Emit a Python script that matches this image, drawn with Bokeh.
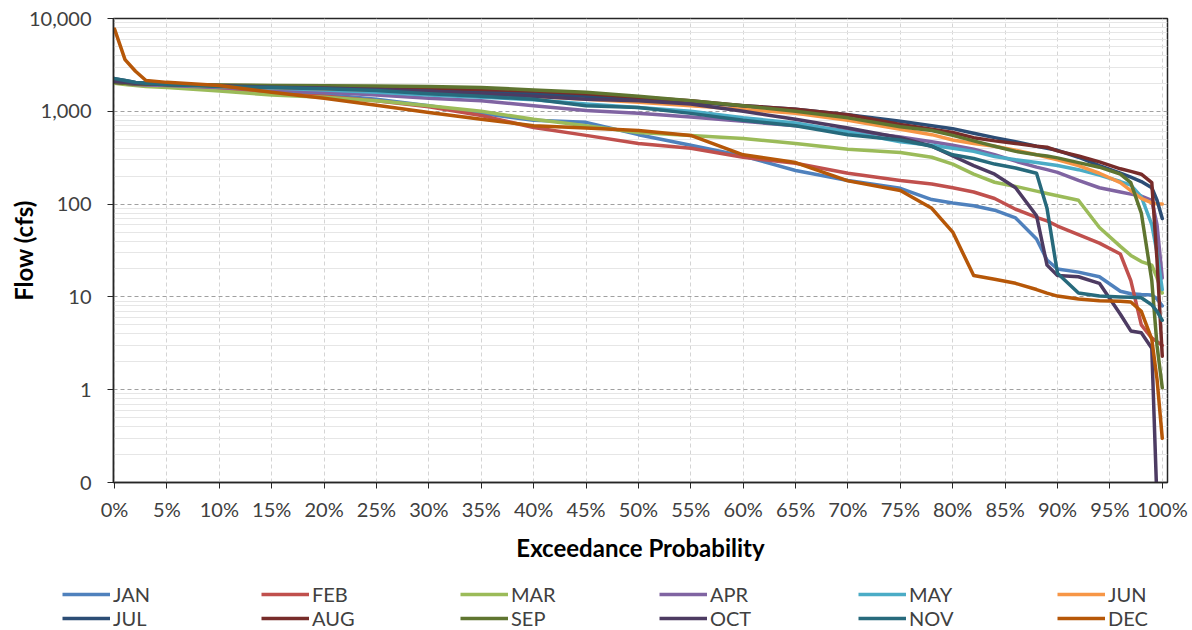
from bokeh.plotting import figure
from bokeh.models import FixedTicker, NumeralTickFormatter, Legend, LegendItem, Range1d
from bokeh.embed import file_html
from bokeh.resources import INLINE

# Exceedance probability grid (fraction)
prob = [0, .01, .02, .03, .05, .10, .15, .20, .25, .30, .35, .40, .45, .50, .55, .60, .65, .70,
        .75, .78, .80, .82, .84, .86, .88, .89, .90, .92, .94, .96, .97, .98, .99, .995, 1.0]

months = ["JAN", "FEB", "MAR", "APR", "MAY", "JUN", "JUL", "AUG", "SEP", "OCT", "NOV", "DEC"]

jan = [2050, 2000, 1980, 1950, 1900, 1750, 1620, 1520, 1350, 1150, 950, 800, 760, 560, 430, 330, 230, 180,
       148, 112, 103, 96, 86, 71, 42, 25, 20, 18.5, 16.5, 11.5, 10.8, 10.6, 10.5, 9.5, 8]
feb = [2100, 2000, 1950, 1900, 1850, 1700, 1550, 1450, 1300, 1120, 900, 670, 550, 450, 400, 320, 275, 215,
       180, 165, 150, 135, 115, 88, 72, 66, 58, 47, 38, 29, 15, 5, 3.6, 3.3, 3]
mar = [2000, 1950, 1900, 1850, 1800, 1650, 1500, 1420, 1300, 1150, 1000, 820, 700, 590, 550, 510, 450, 390,
       360, 320, 270, 210, 172, 155, 138, 130, 123, 110, 56, 35, 28, 24, 22, 16, 11]
apr = [2050, 2000, 1950, 1920, 1900, 1800, 1700, 1600, 1500, 1380, 1300, 1150, 1020, 950, 870, 780, 700, 620,
       530, 470, 430, 390, 340, 290, 250, 235, 220, 180, 150, 135, 128, 122, 110, 60, 16]
may = [2150, 2080, 2020, 2000, 1950, 1850, 1780, 1700, 1600, 1500, 1420, 1330, 1200, 1100, 1000, 850, 750, 600,
       470, 430, 400, 370, 325, 300, 280, 270, 260, 235, 205, 175, 160, 120, 60, 30, 12]
jun = [2100, 2050, 2000, 1980, 1950, 1850, 1800, 1750, 1700, 1650, 1550, 1450, 1350, 1250, 1150, 1050, 950, 800,
       640, 560, 490, 450, 420, 380, 340, 320, 300, 260, 215, 170, 140, 115, 103, 101, 100]
jul = [2250, 2150, 2050, 2000, 1950, 1900, 1850, 1800, 1750, 1700, 1650, 1550, 1450, 1350, 1250, 1150, 1050, 920,
       780, 700, 650, 580, 520, 470, 420, 400, 380, 320, 260, 215, 195, 175, 150, 110, 70]
aug = [2050, 2000, 1980, 1970, 1950, 1900, 1880, 1850, 1820, 1780, 1720, 1650, 1550, 1420, 1300, 1150, 1050, 920,
       720, 640, 590, 520, 480, 450, 420, 410, 375, 330, 285, 240, 225, 210, 170, 25, 2.3]
sep = [2050, 2000, 1980, 1970, 1950, 1920, 1900, 1880, 1870, 1850, 1800, 1700, 1600, 1450, 1300, 1150, 1000, 850,
       680, 620, 550, 480, 420, 370, 340, 330, 315, 280, 250, 210, 170, 80, 15, 3, 1.05]
oct_ = [2100, 2050, 2000, 1980, 1950, 1880, 1820, 1780, 1720, 1650, 1550, 1450, 1350, 1300, 1200, 1000, 820, 660,
        520, 420, 330, 260, 210, 150, 75, 22, 17, 16.5, 14, 6.5, 4.3, 4.1, 2.8, 0.06, 0.03]
nov = [2250, 2150, 2050, 2000, 1950, 1850, 1800, 1750, 1680, 1550, 1450, 1350, 1150, 1100, 950, 800, 700, 560,
       490, 420, 340, 310, 270, 245, 215, 90, 18, 11, 10.2, 10, 9.9, 9.8, 8.2, 7, 5.6]
dec = [7700, 3600, 2700, 2150, 2050, 1900, 1600, 1380, 1160, 970, 820, 700, 660, 620, 550, 340, 280, 178,
       140, 90, 50, 17, 15.5, 14, 12, 11, 10.2, 9.5, 9.1, 9, 8.8, 7, 3.5, 1.3, 0.3]

series = [jan, feb, mar, apr, may, jun, jul, aug, sep, oct_, nov, dec]
colors = ["#4F81BD", "#C0504D", "#9BBB59", "#8064A2", "#4BACC6", "#F79646",
          "#2C4D75", "#772C2A", "#5F7530", "#4D3B62", "#276A7C", "#B65708"]

x_ticks = [i / 20 for i in range(21)]
y_major = [0.1, 1, 10, 100, 1000, 10000]
y_minor = [m * 10 ** e for e in range(-1, 4) for m in range(2, 10)]

FONT = "Lato"
W = 1192
MAIN_H = 572
LEG_H = 58

p = figure(width=W, height=MAIN_H, y_axis_type="log",
           x_range=Range1d(-0.001, 1.005), y_range=Range1d(0.1, 10000),
           output_backend="svg", toolbar_location=None, title=None,
           min_border_left=113, min_border_right=25, min_border_top=18,
           min_border_bottom=MAIN_H - 482)

p.outline_line_color = "#262626"
p.outline_line_width = 1.5

for name, vals, col in zip(months, series, colors):
    p.line(prob, vals, line_width=3.5, line_color=col, line_join="round", line_cap="round")

# axes
p.xaxis.ticker = FixedTicker(ticks=x_ticks)
p.xaxis.formatter = NumeralTickFormatter(format="0%")
p.yaxis.ticker = FixedTicker(ticks=y_major, minor_ticks=y_minor)
p.yaxis.formatter = NumeralTickFormatter(format="0,0")

for ax in (p.xaxis, p.yaxis):
    ax.major_label_text_font = FONT
    ax.major_label_text_font_size = "20px"
    ax.major_label_text_color = "#404040"
    ax.axis_line_color = "#262626"
    ax.axis_line_width = 1.5
    ax.major_tick_line_color = "#262626"
    ax.major_tick_out = 6
    ax.major_tick_in = 0
    ax.minor_tick_out = 0
    ax.minor_tick_in = 0
    ax.axis_label_text_font = FONT
    ax.axis_label_text_font_style = "bold"
    ax.axis_label_text_font_size = "24px"
    ax.axis_label_text_color = "#000000"

p.xaxis.axis_label = "Exceedance Probability"
p.xaxis.major_label_standoff = 8
p.xaxis.axis_label_standoff = 9
p.yaxis.axis_label = "Flow (cfs)"
p.yaxis.major_label_standoff = 16
p.yaxis.axis_label_standoff = -12

# grids
p.xgrid.grid_line_color = "#D4D4D4"
p.xgrid.grid_line_dash = "4 3"
p.ygrid.grid_line_color = "#A0A0A0"
p.ygrid.grid_line_dash = "4 3"
p.ygrid.minor_grid_line_color = "#E6E6E6"

# legend strip below the chart (proxy renderers of the same series, hidden)
lg = figure(width=W, height=LEG_H, x_range=Range1d(-0.001, 1.005), y_range=Range1d(0.1, 10000),
            y_axis_type="log", output_backend="svg", toolbar_location=None, title=None,
            x_axis_location=None, y_axis_location=None,
            min_border_left=0, min_border_right=0, min_border_top=0, min_border_bottom=0)
lg.outline_line_color = None
lg.xgrid.visible = False
lg.ygrid.visible = False

items = []
for name, vals, col in zip(months, series, colors):
    r = lg.line(prob, vals, line_width=3.5, line_color=col, visible=False)
    items.append(LegendItem(label=name, renderers=[r]))

legend = Legend(items=items, orientation="horizontal", ncols=6,
                glyph_width=48, glyph_height=18, label_width=148, label_height=18,
                label_standoff=3, spacing=0, padding=0, margin=0,
                location=(62, 0), click_policy="none")
legend.label_text_font = FONT
legend.label_text_font_size = "20px"
legend.label_text_color = "#404040"
legend.border_line_color = None
legend.background_fill_alpha = 0
lg.add_layout(legend, "center")

open("out.html", "w").write(file_html([p, lg], INLINE))
